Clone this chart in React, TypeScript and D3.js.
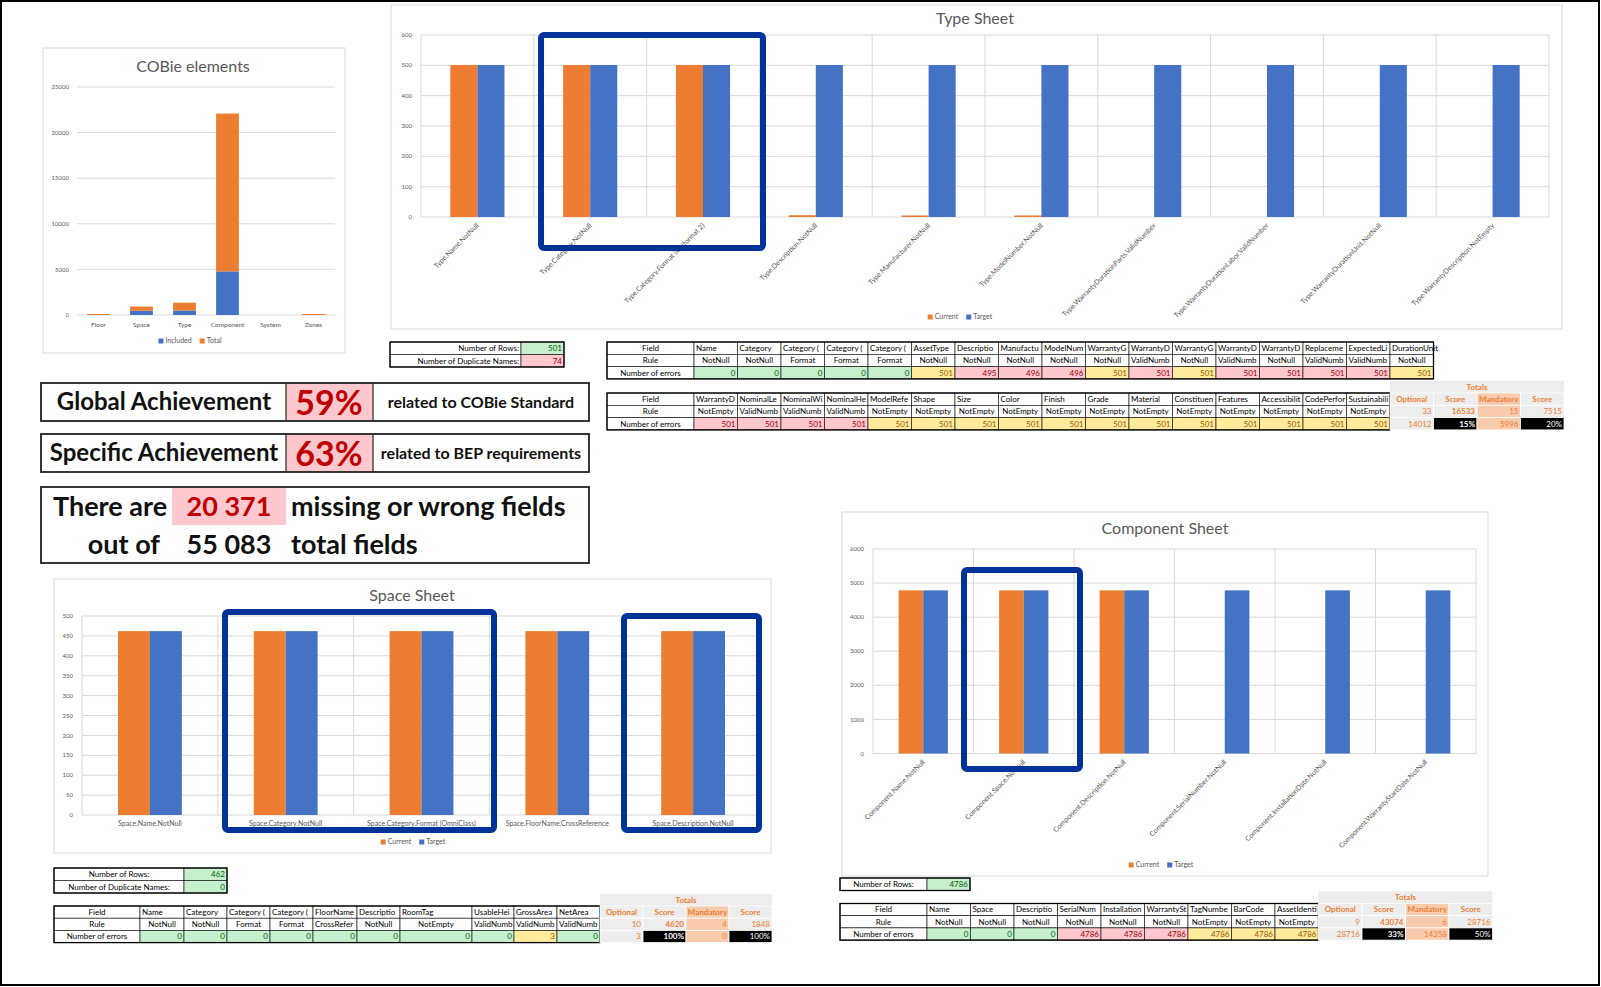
import * as d3 from 'd3'
import React, { useEffect, useRef } from 'react'

type Status = 'ok' | 'warn' | 'bad'

// ---------- data ----------
const cobieCategories = ['Floor', 'Space', 'Type', 'Component', 'System', 'Zones']
const cobieIncluded = [0, 462, 501, 4786, 0, 0]
const cobieTotal = [110, 462, 850, 17300, 0, 110]

const typeChecks = [
  'Type.Name.NotNull', 'Type.Category.NotNull', 'Type.Category.Format (Uniformat 2)',
  'Type.Description.NotNull', 'Type.Manufacturer.NotNull', 'Type.ModelNumber.NotNull',
  'Type.WarrantyDurationParts.ValidNumber', 'Type.WarrantyDurationLabor.ValidNumber',
  'Type.WarrantyDurationUnit.NotNull', 'Type.WarrantyDescription.NotEmpty',
]
const typeCurrent = [501, 501, 501, 6, 5, 5, 0, 0, 0, 0]
const typeTarget = [501, 501, 501, 501, 501, 501, 501, 501, 501, 501]

const spaceChecks = [
  'Space.Name.NotNull', 'Space.Category.NotNull', 'Space.Category.Format (OmniClass)',
  'Space.FloorName.CrossReference', 'Space.Description.NotNull',
]
const spaceCurrent = [462, 462, 462, 462, 462]
const spaceTarget = [462, 462, 462, 462, 462]

const componentChecks = [
  'Component.Name.NotNull', 'Component.Space.NotNull', 'Component.Description.NotNull',
  'Component.SerialNumber.NotNull', 'Component.InstallationDate.NotNull', 'Component.WarrantyStartDate.NotNull',
]
const componentCurrent = [4786, 4786, 4786, 0, 0, 0]
const componentTarget = [4786, 4786, 4786, 4786, 4786, 4786]

// type sheet tables
const typeFields1 = ['Name', 'Category', 'Category (Uniformat)', 'Category (OmniClass)', 'Category (Other)', 'AssetType',
  'Description', 'Manufacturer', 'ModelNumber', 'WarrantyGuarantorParts', 'WarrantyDurationParts',
  'WarrantyGuarantorLabor', 'WarrantyDurationLabor', 'WarrantyDescription', 'ReplacementCost', 'ExpectedLife', 'DurationUnit']
const typeRules1 = ['NotNull', 'NotNull', 'Format', 'Format', 'Format', 'NotNull', 'NotNull', 'NotNull', 'NotNull',
  'NotNull', 'ValidNumber', 'NotNull', 'ValidNumber', 'NotNull', 'ValidNumber', 'ValidNumber', 'NotNull']
const typeErrors1 = [0, 0, 0, 0, 0, 501, 495, 496, 496, 501, 501, 501, 501, 501, 501, 501, 501]
const typeStatus1: Status[] = ['ok', 'ok', 'ok', 'ok', 'ok', 'warn', 'bad', 'bad', 'bad', 'warn', 'bad', 'warn', 'bad', 'bad', 'bad', 'bad', 'warn']

const typeFields2 = ['WarrantyDescription', 'NominalLength', 'NominalWidth', 'NominalHeight', 'ModelReference', 'Shape',
  'Size', 'Color', 'Finish', 'Grade', 'Material', 'Constituents', 'Features', 'AccessibilityPerformance',
  'CodePerformance', 'SustainabilityPerformance']
const typeRules2 = ['NotEmpty', 'ValidNumber', 'ValidNumber', 'ValidNumber', 'NotEmpty', 'NotEmpty', 'NotEmpty', 'NotEmpty',
  'NotEmpty', 'NotEmpty', 'NotEmpty', 'NotEmpty', 'NotEmpty', 'NotEmpty', 'NotEmpty', 'NotEmpty']
const typeErrors2 = [501, 501, 501, 501, 501, 501, 501, 501, 501, 501, 501, 501, 501, 501, 501, 501]
const typeStatus2: Status[] = ['bad', 'bad', 'bad', 'bad', 'warn', 'warn', 'warn', 'warn', 'warn', 'warn', 'warn', 'warn', 'warn', 'warn', 'warn', 'warn']

const totalsHead = ['Optional', 'Score', 'Mandatory', 'Score']
const typeTotals = ['33', '16533', '15', '7515']
const typeTotalsErr = ['14012', '15%', '5996', '20%']
const typeInfoLabels = ['Number of Rows:', 'Number of Duplicate Names:']
const typeInfoValues = [501, 74]
const typeInfoStatus: Status[] = ['ok', 'bad']

// space sheet tables
const spaceFields = ['Name', 'Category', 'Category (OmniClass)', 'Category (Other)', 'FloorName', 'Description', 'RoomTag',
  'UsableHeight', 'GrossArea', 'NetArea']
const spaceRules = ['NotNull', 'NotNull', 'Format', 'Format', 'CrossReference', 'NotNull', 'NotEmpty', 'ValidNumber', 'ValidNumber', 'ValidNumber']
const spaceErrors = [0, 0, 0, 0, 0, 0, 0, 0, 3, 0]
const spaceStatus: Status[] = ['ok', 'ok', 'ok', 'ok', 'ok', 'ok', 'ok', 'ok', 'warn', 'ok']
const spaceTotals = ['10', '4620', '4', '1848']
const spaceTotalsErr = ['3', '100%', '0', '100%']
const spaceInfoLabels = ['Number of Rows:', 'Number of Duplicate Names:']
const spaceInfoValues = [462, 0]
const spaceInfoStatus: Status[] = ['ok', 'ok']

// component sheet tables
const componentFields = ['Name', 'Space', 'Description', 'SerialNumber', 'InstallationDate', 'WarrantyStartDate',
  'TagNumber', 'BarCode', 'AssetIdentifier']
const componentRules = ['NotNull', 'NotNull', 'NotNull', 'NotNull', 'NotNull', 'NotNull', 'NotEmpty', 'NotEmpty', 'NotEmpty']
const componentErrors = [0, 0, 0, 4786, 4786, 4786, 4786, 4786, 4786]
const componentStatus: Status[] = ['ok', 'ok', 'ok', 'bad', 'bad', 'bad', 'warn', 'warn', 'warn']
const componentTotals = ['9', '43074', '6', '28716']
const componentTotalsErr = ['28716', '33%', '14358', '50%']
const componentInfoLabels = ['Number of Rows:']
const componentInfoValues = [4786]
const componentInfoStatus: Status[] = ['ok']

// achievement panel
const achieveLabels = ['Global Achievement', 'Specific Achievement']
const achieveValues = ['59%', '63%']
const achieveNotes = ['related to COBie Standard', 'related to BEP requirements']
const missingFields = '20 371'
const totalFields = '55 083'

// ---------- styles ----------
const W = 1601
const H = 987
const ORANGE = '#ED7D31'
const BLUE = '#4472C4'
const NAVY = '#00339A'
const GRID = '#D9D9D9'
const GREY_TEXT = '#595959'
const FONT = 'Lato, "Open Sans", sans-serif'
const CELL_FILL = { ok: '#C6EFCE', warn: '#FFEB9C', bad: '#FFC7CE' }
const CELL_TEXT = { ok: '#006100', warn: '#9C5700', bad: '#9C0006' }

// text inside a cell; cut like a spreadsheet does when it does not fit
function cellText(g, x, y, w, h, text, align, color, size = 8, weight = 'normal', fit = true) {
  const t = g.append('text')
    .attr('y', y + h / 2)
    .attr('dy', '0.35em')
    .attr('font-size', size)
    .attr('font-weight', weight)
    .attr('fill', color)
    .text(text)
  const node = t.node()
  if (align === 'middle' && node.getComputedTextLength() > w - 3) align = 'start'
  if (fit) {
    let s = text
    while (s.length > 1 && node.getComputedTextLength() > w - 3) {
      s = s.slice(0, -1)
      t.text(s)
    }
  }
  if (align === 'start') t.attr('x', x + 2).attr('text-anchor', 'start')
  else if (align === 'end') t.attr('x', x + w - 2).attr('text-anchor', 'end')
  else t.attr('x', x + w / 2).attr('text-anchor', 'middle')
  return t
}

function drawTable(g, x, y, rowH, labelW, widths, fields, rules, errors, status) {
  const labels = ['Field', 'Rule', 'Number of errors']
  labels.forEach((l, r) => {
    g.append('rect').attr('x', x).attr('y', y + r * rowH).attr('width', labelW).attr('height', rowH)
      .attr('fill', 'white').attr('stroke', '#000').attr('stroke-width', 0.6)
    cellText(g, x, y + r * rowH, labelW, rowH, l, 'middle', '#000')
  })
  let cx = x + labelW
  widths.forEach((w, i) => {
    const overflow = i === widths.length - 1 && fields[i] === 'DurationUnit'
    g.append('rect').attr('x', cx).attr('y', y).attr('width', w).attr('height', rowH)
      .attr('fill', 'white').attr('stroke', '#000').attr('stroke-width', 0.6)
    g.append('rect').attr('x', cx).attr('y', y + rowH).attr('width', w).attr('height', rowH)
      .attr('fill', 'white').attr('stroke', '#000').attr('stroke-width', 0.6)
    g.append('rect').attr('x', cx).attr('y', y + 2 * rowH).attr('width', w).attr('height', rowH)
      .attr('fill', CELL_FILL[status[i]]).attr('stroke', '#000').attr('stroke-width', 0.6)
    cellText(g, cx, y, w, rowH, fields[i], 'start', '#000', 8, 'normal', !overflow)
    cellText(g, cx, y + rowH, w, rowH, rules[i], 'middle', '#000')
    cellText(g, cx, y + 2 * rowH, w, rowH, String(errors[i]), 'end', CELL_TEXT[status[i]])
    cx += w
  })
  g.append('rect').attr('x', x).attr('y', y).attr('width', cx - x).attr('height', 3 * rowH)
    .attr('fill', 'none').attr('stroke', '#000').attr('stroke-width', 1.3)
  return cx
}

function drawTotals(g, x, y, rowH, w, head, vals, errs) {
  g.append('rect').attr('x', x).attr('y', y - rowH).attr('width', 4 * w).attr('height', 4 * rowH).attr('fill', '#EDEDED')
  g.append('text').attr('x', x + 2 * w).attr('y', y - rowH / 2).attr('dy', '0.35em')
    .attr('text-anchor', 'middle').attr('font-size', 8).attr('font-weight', 'bold').attr('fill', ORANGE).text('Totals')
  head.forEach((h, i) => {
    const cx = x + i * w
    const rows = [h, vals[i], errs[i]]
    rows.forEach((v, r) => {
      const black = r === 2 && (i === 1 || i === 3)
      const fill = black ? '#000' : i === 2 ? '#F8CBAD' : '#EDEDED'
      g.append('rect').attr('x', cx).attr('y', y + r * rowH).attr('width', w).attr('height', rowH)
        .attr('fill', fill).attr('stroke', 'white').attr('stroke-width', 0.8)
      cellText(g, cx, y + r * rowH, w, rowH, v, r === 0 ? 'middle' : 'end', black ? 'white' : ORANGE, 8,
        r === 0 || i === 1 ? 'bold' : 'normal')
    })
  })
}

function drawInfo(g, x, y, rowH, labelW, valW, labels, values, status, align) {
  labels.forEach((l, r) => {
    g.append('rect').attr('x', x).attr('y', y + r * rowH).attr('width', labelW).attr('height', rowH)
      .attr('fill', 'white').attr('stroke', '#000').attr('stroke-width', 0.6)
    cellText(g, x, y + r * rowH, labelW, rowH, l, align, '#000')
    g.append('rect').attr('x', x + labelW).attr('y', y + r * rowH).attr('width', valW).attr('height', rowH)
      .attr('fill', CELL_FILL[status[r]]).attr('stroke', '#000').attr('stroke-width', 0.6)
    cellText(g, x + labelW, y + r * rowH, valW, rowH, String(values[r]), 'end', CELL_TEXT[status[r]])
  })
  g.append('rect').attr('x', x).attr('y', y).attr('width', labelW + valW).attr('height', labels.length * rowH)
    .attr('fill', 'none').attr('stroke', '#000').attr('stroke-width', 1.3)
}

function drawLegend(g, cx, cy, items) {
  const lg = g.append('g')
  let x = 0
  items.forEach(([label, color]) => {
    lg.append('rect').attr('x', x).attr('y', -2.5).attr('width', 5).attr('height', 5).attr('fill', color)
    const t = lg.append('text').attr('x', x + 7).attr('y', 0).attr('dy', '0.35em')
      .attr('font-size', 7).attr('fill', GREY_TEXT).text(label)
    x += 7 + t.node().getComputedTextLength() + 8
  })
  lg.attr('transform', `translate(${cx - (x - 8) / 2}, ${cy})`)
}

function drawGrouped(svg, lay, title, cats, cur, tgt, yMax, yStep, rotate) {
  const g = svg.append('g')
  g.append('rect').attr('x', lay.box[0]).attr('y', lay.box[1]).attr('width', lay.box[2]).attr('height', lay.box[3])
    .attr('fill', 'white').attr('stroke', GRID)
  g.append('text').attr('x', lay.title[0]).attr('y', lay.title[1]).attr('dy', '0.35em').attr('text-anchor', 'middle')
    .attr('font-size', 16).attr('fill', GREY_TEXT).text(title)

  const x = d3.scaleBand().domain(cats).range([lay.l, lay.r])
  const y = d3.scaleLinear().domain([0, yMax]).range([lay.b, lay.t])
  const ticks = d3.range(0, yMax + 1, yStep)

  g.selectAll('.grid').data(ticks).enter().append('line')
    .attr('x1', lay.l).attr('x2', lay.r).attr('y1', d => y(d)).attr('y2', d => y(d))
    .attr('stroke', GRID).attr('stroke-width', 1)
  g.selectAll('.vgrid').data(d3.range(cats.length + 1)).enter().append('line')
    .attr('x1', d => lay.l + d * x.step()).attr('x2', d => lay.l + d * x.step())
    .attr('y1', lay.t).attr('y2', lay.b).attr('stroke', GRID).attr('stroke-width', 1)
  g.selectAll('.ylab').data(ticks).enter().append('text')
    .attr('x', lay.l - 9).attr('y', d => y(d)).attr('dy', '0.35em').attr('text-anchor', 'end')
    .attr('font-size', 6).attr('fill', GREY_TEXT).text(d => d)

  const bw = x.bandwidth() * lay.frac
  g.selectAll('.cur').data(cats).enter().append('rect')
    .attr('x', d => x(d) + x.bandwidth() / 2 - bw)
    .attr('y', (d, i) => y(cur[i]))
    .attr('width', bw)
    .attr('height', (d, i) => lay.b - y(cur[i]))
    .attr('fill', ORANGE)
  g.selectAll('.tgt').data(cats).enter().append('rect')
    .attr('x', d => x(d) + x.bandwidth() / 2)
    .attr('y', (d, i) => y(tgt[i]))
    .attr('width', bw)
    .attr('height', (d, i) => lay.b - y(tgt[i]))
    .attr('fill', BLUE)

  if (rotate) {
    g.selectAll('.xlab').data(cats).enter().append('text')
      .attr('transform', d => `translate(${x(d) + x.bandwidth() / 2 + 2}, ${lay.b + 9}) rotate(-45)`)
      .attr('text-anchor', 'end').attr('font-size', 7).attr('fill', GREY_TEXT).text(d => d)
  } else {
    g.selectAll('.xlab').data(cats).enter().append('text')
      .attr('x', d => x(d) + x.bandwidth() / 2).attr('y', lay.b + 9).attr('dy', '0.35em')
      .attr('text-anchor', 'middle').attr('font-size', 7).attr('fill', GREY_TEXT).text(d => d)
  }
  drawLegend(g, lay.legend[0], lay.legend[1], [['Current', ORANGE], ['Target', BLUE]])
}

function drawCobie(svg) {
  const g = svg.append('g')
  const l = 77, r = 335, t = 87, b = 315
  g.append('rect').attr('x', 43).attr('y', 48).attr('width', 302).attr('height', 305)
    .attr('fill', 'white').attr('stroke', GRID)
  g.append('text').attr('x', 193).attr('y', 66).attr('dy', '0.35em').attr('text-anchor', 'middle')
    .attr('font-size', 16).attr('fill', GREY_TEXT).text('COBie elements')

  const x = d3.scaleBand().domain(cobieCategories).range([l, r])
  const y = d3.scaleLinear().domain([0, 25000]).range([b, t])
  const ticks = d3.range(0, 25001, 5000)
  g.selectAll('.grid').data(ticks).enter().append('line')
    .attr('x1', l).attr('x2', r).attr('y1', d => y(d)).attr('y2', d => y(d)).attr('stroke', GRID)
  g.selectAll('.ylab').data(ticks).enter().append('text')
    .attr('x', l - 8).attr('y', d => y(d)).attr('dy', '0.35em').attr('text-anchor', 'end')
    .attr('font-size', 6).attr('fill', GREY_TEXT).text(d => d)

  const rows = cobieCategories.map((c, i) => ({ cat: c, included: cobieIncluded[i], total: cobieTotal[i] }))
  const series = d3.stack().keys(['included', 'total'])(rows)
  const colors = [BLUE, ORANGE]
  const bw = x.bandwidth() * 0.53
  series.forEach((s, k) => {
    g.selectAll('.s' + k).data(s).enter().append('rect')
      .attr('x', d => x(d.data.cat) + (x.bandwidth() - bw) / 2)
      .attr('y', d => y(d[1]))
      .attr('width', bw)
      .attr('height', d => y(d[0]) - y(d[1]))
      .attr('fill', colors[k])
  })
  g.selectAll('.xlab').data(cobieCategories).enter().append('text')
    .attr('x', d => x(d) + x.bandwidth() / 2).attr('y', b + 10).attr('dy', '0.35em')
    .attr('text-anchor', 'middle').attr('font-size', 6.5).attr('fill', GREY_TEXT).text(d => d)
  drawLegend(g, 190, 341, [['Included', BLUE], ['Total', ORANGE]])
}

function drawAchievements(svg) {
  const g = svg.append('g')
  const boxes = [[383, 421], [434, 472]]
  boxes.forEach(([y0, y1], i) => {
    g.append('rect').attr('x', 286).attr('y', y0).attr('width', 87).attr('height', y1 - y0).attr('fill', '#FFC7CE')
    g.append('rect').attr('x', 41).attr('y', y0).attr('width', 548).attr('height', y1 - y0)
      .attr('fill', 'none').attr('stroke', '#222').attr('stroke-width', 1.8)
    g.append('line').attr('x1', 286).attr('x2', 286).attr('y1', y0).attr('y2', y1).attr('stroke', '#222').attr('stroke-width', 1.2)
    g.append('line').attr('x1', 373).attr('x2', 373).attr('y1', y0).attr('y2', y1).attr('stroke', '#222').attr('stroke-width', 1.2)
    const cy = (y0 + y1) / 2
    g.append('text').attr('x', 164).attr('y', cy).attr('dy', '0.35em').attr('text-anchor', 'middle')
      .attr('font-size', 24).attr('font-weight', 'bold').attr('fill', '#111').text(achieveLabels[i])
    g.append('text').attr('x', 329).attr('y', cy + 1).attr('dy', '0.35em').attr('text-anchor', 'middle')
      .attr('font-size', 34).attr('font-weight', 'bold').attr('fill', '#C00000').text(achieveValues[i])
    g.append('text').attr('x', 481).attr('y', cy).attr('dy', '0.35em').attr('text-anchor', 'middle')
      .attr('font-size', 16).attr('font-weight', 'bold').attr('fill', '#111').text(achieveNotes[i])
  })
  g.append('rect').attr('x', 172).attr('y', 488).attr('width', 114).attr('height', 37).attr('fill', '#FFC7CE')
  g.append('rect').attr('x', 41).attr('y', 487).attr('width', 548).attr('height', 76)
    .attr('fill', 'none').attr('stroke', '#222').attr('stroke-width', 1.8)
  const big = (x, y, txt, anchor, color = '#111') => g.append('text').attr('x', x).attr('y', y).attr('dy', '0.35em')
    .attr('text-anchor', anchor).attr('font-size', 27).attr('font-weight', 'bold').attr('fill', color).text(txt)
  big(53, 507, 'There are', 'start')
  big(229, 507, missingFields, 'middle', '#C00000')
  big(291, 507, 'missing or wrong fields', 'start')
  big(160, 545, 'out of', 'end')
  big(229, 545, totalFields, 'middle')
  big(291, 545, 'total fields', 'start')
}

function drawHighlight(svg, x, y, w, h) {
  svg.append('rect').attr('x', x).attr('y', y).attr('width', w).attr('height', h).attr('rx', 3)
    .attr('fill', 'none').attr('stroke', NAVY).attr('stroke-width', 6)
}

function drawAll(svg) {
  svg.append('rect').attr('width', W).attr('height', H).attr('fill', 'white')

  drawCobie(svg)

  drawGrouped(svg, { box: [391, 5, 1171, 324], title: [975, 18], l: 421, r: 1549, t: 35, b: 217, frac: 0.24, legend: [960, 317] },
    'Type Sheet', typeChecks, typeCurrent, typeTarget, 600, 100, true)
  drawGrouped(svg, { box: [54, 579, 717, 274], title: [412, 595], l: 82, r: 761, t: 616, b: 815, frac: 0.235, legend: [413, 842] },
    'Space Sheet', spaceChecks, spaceCurrent, spaceTarget, 500, 50, false)
  drawGrouped(svg, { box: [842, 512, 646, 364], title: [1165, 528], l: 873, r: 1476, t: 549, b: 753.5, frac: 0.245, legend: [1161, 865] },
    'Component Sheet', componentChecks, componentCurrent, componentTarget, 6000, 1000, true)

  drawAchievements(svg)

  const t = svg.append('g')
  const tw = 43.5
  drawInfo(t, 390, 342, 12.5, 131, 43, typeInfoLabels, typeInfoValues, typeInfoStatus, 'end')
  drawTable(t, 607, 342, 12.3, 87, typeFields1.map(() => tw), typeFields1, typeRules1, typeErrors1, typeStatus1)
  const tEnd = drawTable(t, 607, 393, 12.3, 87, typeFields2.map(() => tw), typeFields2, typeRules2, typeErrors2, typeStatus2)
  drawTotals(t, tEnd, 393, 12.3, tw, totalsHead, typeTotals, typeTotalsErr)

  drawInfo(t, 54, 868, 12.5, 130, 43, spaceInfoLabels, spaceInfoValues, spaceInfoStatus, 'middle')
  const sEnd = drawTable(t, 54, 906, 12.2, 86, [44, 43, 43, 43, 44, 43, 72, 42, 43, 43], spaceFields, spaceRules, spaceErrors, spaceStatus)
  drawTotals(t, sEnd, 906, 12.2, 43, totalsHead, spaceTotals, spaceTotalsErr)

  drawInfo(t, 840, 878, 12.5, 87, 43, componentInfoLabels, componentInfoValues, componentInfoStatus, 'middle')
  const cEnd = drawTable(t, 840, 903.5, 12.2, 87, componentFields.map(() => tw), componentFields, componentRules, componentErrors, componentStatus)
  drawTotals(t, cEnd, 903.5, 12.2, tw, totalsHead, componentTotals, componentTotalsErr)

  // highlight frames
  drawHighlight(svg, 541, 35, 222, 213)
  drawHighlight(svg, 225, 612, 269, 218)
  drawHighlight(svg, 624, 616, 135, 214)
  drawHighlight(svg, 964, 570, 116, 199)

  // outer frame
  svg.append('rect').attr('x', 1).attr('y', 1).attr('width', W - 3).attr('height', H - 3)
    .attr('fill', 'none').attr('stroke', '#000').attr('stroke-width', 2)
}

export default function App() {
  const ref = useRef(null)
  useEffect(() => {
    const svg = d3.select(ref.current)
    svg.selectAll('*').remove()
    drawAll(svg)
  }, [])
  return (
    <svg ref={ref} width={W} height={H} fontFamily={FONT}
      style={{ position: 'absolute', left: 0, top: 0, display: 'block' }} />
  )
}
